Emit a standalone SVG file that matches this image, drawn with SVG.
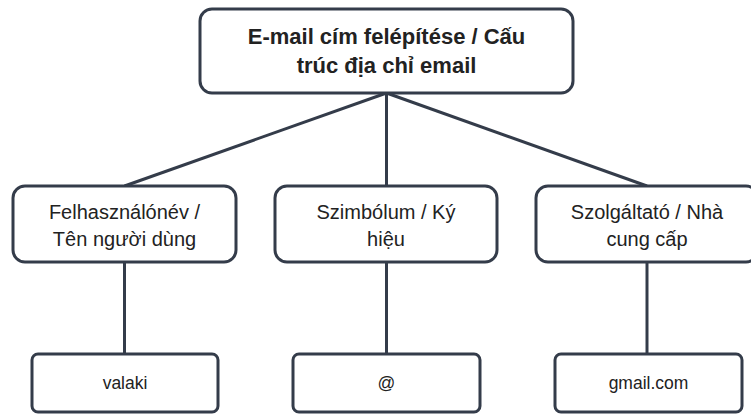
<svg xmlns="http://www.w3.org/2000/svg" width="751" height="414" viewBox="0 0 751 414">
<style>
.box{fill:#ffffff;stroke:#343c4a;stroke-width:3}
.edge{stroke:#343c4a;stroke-width:3;fill:none}
.t{font-family:"Liberation Sans",Arial,sans-serif;fill:#222222;text-anchor:middle}
.title{font-size:22px;font-weight:bold}
.mid{font-size:20px}
.leaf{font-size:17.5px}
</style>
<rect width="751" height="414" fill="#ffffff"/>
<g id="connectors">
<line class="edge" x1="386.5" y1="93" x2="124.5" y2="186"/>
<line class="edge" x1="386.5" y1="93" x2="386.5" y2="186"/>
<line class="edge" x1="386.5" y1="93" x2="647" y2="186"/>
<line class="edge" x1="124.5" y1="262" x2="124.5" y2="354"/>
<line class="edge" x1="386.5" y1="262" x2="386.5" y2="354"/>
<line class="edge" x1="647" y1="262" x2="647" y2="354"/>
</g>
<g id="root">
<rect class="box" x="200" y="9" width="373" height="84" rx="12"/>
<text class="t title" x="386.5" y="44">E-mail cím felépítése / Cấu</text>
<text class="t title" x="386.5" y="73">trúc địa chỉ email</text>
</g>
<g id="username">
<rect class="box" x="13" y="186" width="223" height="76" rx="12"/>
<text class="t mid" x="124.5" y="219">Felhasználónév /</text>
<text class="t mid" x="124.5" y="246">Tên người dùng</text>
</g>
<g id="symbol">
<rect class="box" x="275" y="186" width="222" height="76" rx="12"/>
<text class="t mid" x="386" y="219">Szimbólum / Ký</text>
<text class="t mid" x="386" y="246">hiệu</text>
</g>
<g id="provider">
<rect class="box" x="536" y="186" width="222" height="76" rx="12"/>
<text class="t mid" x="647" y="219">Szolgáltató / Nhà</text>
<text class="t mid" x="647" y="246">cung cấp</text>
</g>
<g id="valaki">
<rect class="box" x="32" y="354" width="186" height="58" rx="6"/>
<text class="t leaf" x="125" y="389">valaki</text>
</g>
<g id="at">
<rect class="box" x="293" y="354" width="187" height="58" rx="6"/>
<text class="t leaf" x="386.5" y="389">@</text>
</g>
<g id="gmail">
<rect class="box" x="555" y="354" width="187" height="58" rx="6"/>
<text class="t leaf" x="648.5" y="389">gmail.com</text>
</g>
</svg>
